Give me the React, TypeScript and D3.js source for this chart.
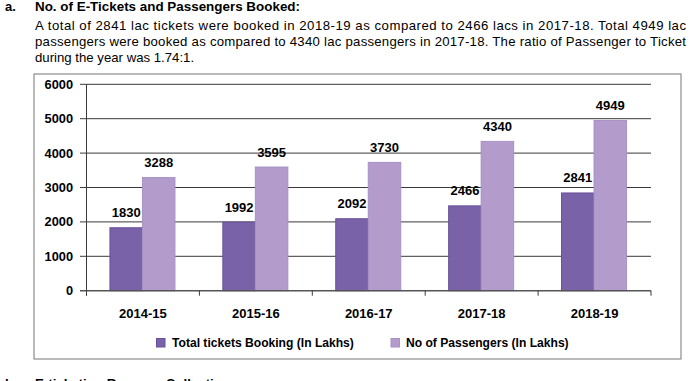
import React from "react";
import * as d3 from "d3";

const categories = ["2014-15", "2015-16", "2016-17", "2017-18", "2018-19"];
const tickets = [1830, 1992, 2092, 2466, 2841];
const passengers = [3288, 3595, 3730, 4340, 4949];
const yTicks = [0, 1000, 2000, 3000, 4000, 5000, 6000];
const seriesNames = ["Total tickets Booking (In Lakhs)", "No of Passengers (In Lakhs)"];
const paragraph = [
  "A total of 2841 lac tickets were booked in 2018-19 as compared to 2466 lacs in 2017-18. Total 4949 lac",
  "passengers were booked as compared to 4340 lac passengers in 2017-18. The ratio of Passenger to Ticket",
  "during the year was 1.74:1.",
];

const FONT = "'Liberation Sans', Arial, sans-serif";
const DARK = "#7a62a8";
const DARK_STROKE = "#67509b";
const LIGHT = "#b39ccb";
const LIGHT_STROKE = "#a890c5";

export default function App() {
  const W = 690, H = 381;
  const plotLeft = 86.5, plotRight = 651, plotTop = 84.3, plotBottom = 290.7;
  const x = d3.scaleBand<string>().domain(categories).range([plotLeft, plotRight]);
  const y = d3.scaleLinear().domain([0, 6000]).range([plotBottom, plotTop]);
  const pairW = 65;
  const inner = d3.scaleBand<string>().domain(["t", "p"]).range([0, pairW]);
  const bw = x.bandwidth();
  const groupX = (c: string) => (x(c) as number) + (bw - pairW) / 2 - 0.5;
  const series = [
    { key: "t", values: tickets, fill: DARK, stroke: DARK_STROKE },
    { key: "p", values: passengers, fill: LIGHT, stroke: LIGHT_STROKE },
  ];
  const boundaries = categories.map((c) => x(c) as number).concat([plotRight]);

  return (
    <svg width={W} height={H} style={{ position: "absolute", left: 0, top: 0 }} fontFamily={FONT}>
      <rect width={W} height={H} fill="#fff" />
      {/* heading */}
      <text x={5} y={11} fontSize={13} fontWeight="bold" fill="#000">a.</text>
      <text x={35} y={11} fontSize={13} fontWeight="bold" fill="#000" textLength={265} lengthAdjust="spacingAndGlyphs">No. of E-Tickets and Passengers Booked:</text>
      {paragraph.map((line, i) => (
        <text
          key={i}
          x={35}
          y={30 + i * 16}
          fontSize={13.2}
          fill="#000"
          {...(i < 2 ? { textLength: 651, lengthAdjust: "spacing" } : {})}
        >
          {line}
        </text>
      ))}
      {/* chart box */}
      <rect x={34} y={74} width={647} height={285} fill="none" stroke="#777" strokeWidth={1} />
      {/* grid lines */}
      {yTicks.filter((t) => t > 0).map((t) => (
        <line key={t} x1={80} x2={plotRight} y1={y(t)} y2={y(t)} stroke="#3a3a3a" strokeWidth={1} />
      ))}
      {/* y axis */}
      <line x1={plotLeft} x2={plotLeft} y1={plotTop} y2={plotBottom + 5} stroke="#3a3a3a" strokeWidth={1} />
      {yTicks.map((t) => (
        <text key={t} x={73} y={y(t) + 4.4} fontSize={12.8} fontWeight="bold" textAnchor="end" fill="#000">
          {t}
        </text>
      ))}
      {/* bars */}
      {series.map((s) =>
        categories.map((c, i) => {
          const bx = groupX(c) + (inner(s.key) as number);
          const by = y(s.values[i]);
          return (
            <g key={s.key + c}>
              <rect x={bx} y={by} width={inner.bandwidth()} height={plotBottom - by} fill={s.fill} stroke={s.stroke} strokeWidth={1} />
              <text x={bx + inner.bandwidth() / 2} y={by - 10.5} fontSize={13} fontWeight="bold" textAnchor="middle" fill="#000">
                {s.values[i]}
              </text>
            </g>
          );
        })
      )}
      {/* zero line + ticks */}
      <line x1={80} x2={plotRight} y1={plotBottom} y2={plotBottom} stroke="#555" strokeWidth={1.5} />
      {boundaries.map((b, i) => (
        <line key={i} x1={b} x2={b} y1={plotBottom} y2={plotBottom + 5} stroke="#3a3a3a" strokeWidth={1} />
      ))}
      {categories.map((c) => (
        <text key={c} x={(x(c) as number) + bw / 2} y={317.5} fontSize={13} fontWeight="bold" textAnchor="middle" fill="#000">
          {c}
        </text>
      ))}
      {/* legend */}
      <rect x={156.5} y={338.5} width={8.5} height={8.5} fill={DARK} stroke={DARK_STROKE} />
      <text x={172} y={347.3} fontSize={12.1} fontWeight="bold" fill="#000">{seriesNames[0]}</text>
      <rect x={391} y={338.5} width={8.5} height={8.5} fill={LIGHT} stroke={LIGHT_STROKE} />
      <text x={406} y={347.3} fontSize={12.1} fontWeight="bold" fill="#000">{seriesNames[1]}</text>
      {/* next heading, cut off at the bottom edge as in the source */}
      <text x={5} y={388} fontSize={13.3} fontWeight="bold" fill="#000">b.</text>
      <text x={35} y={388} fontSize={13.3} fontWeight="bold" fill="#000">E-ticketing Revenue Collection</text>
    </svg>
  );
}
